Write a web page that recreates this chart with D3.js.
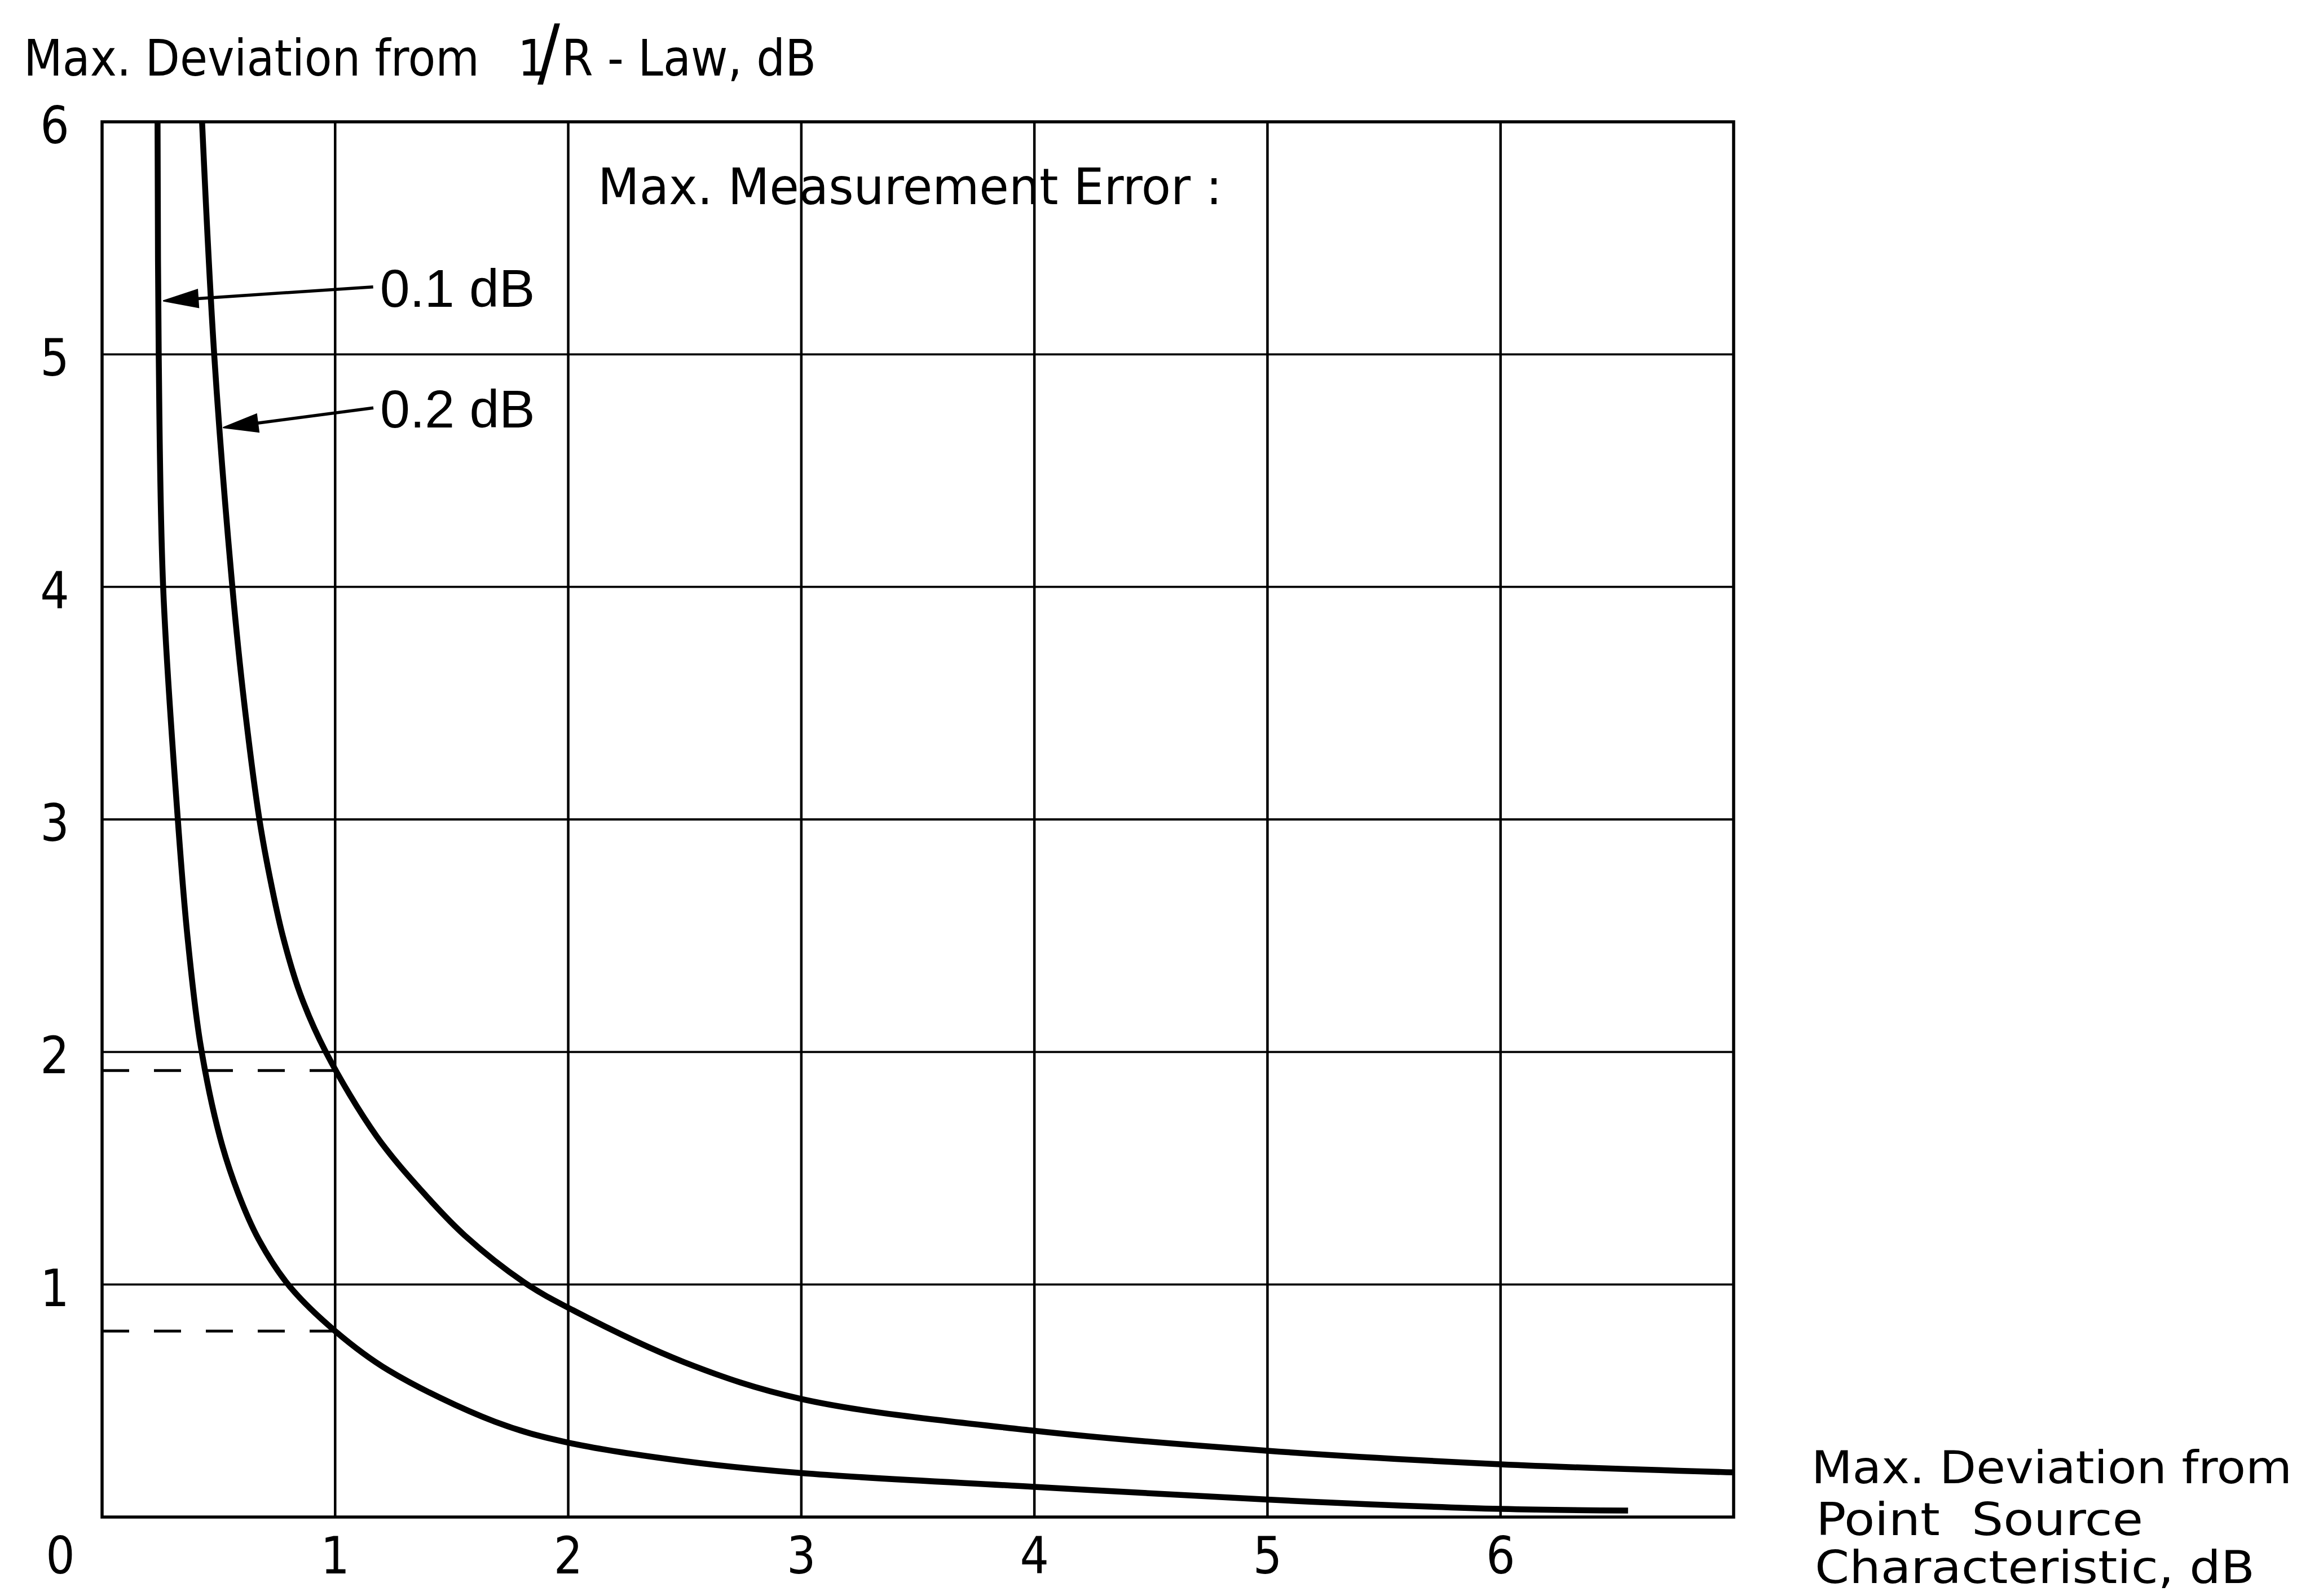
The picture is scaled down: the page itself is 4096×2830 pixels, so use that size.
<!DOCTYPE html>
<html>
<head>
<meta charset="utf-8">
<script src="https://cdn.jsdelivr.net/npm/d3@7"></script>
<style>
  html, body { margin: 0; padding: 0; background: #fff; }
  svg { display: block; }
  .lbl { font-family: "DejaVu Sans Condensed", "DejaVu Sans", sans-serif; fill: #000; }
  .lbl2 { font-family: "Liberation Sans", Arial, sans-serif; fill: #000; }
</style>
</head>
<body>
<div id="chart"></div>
<script>
// curve for 0.1 dB max. measurement error
var err01 = [
    [0.238, 6.0], [0.243, 5.0], [0.262, 4.0], [0.325, 3.0], [0.366, 2.5], [0.422, 2.033],
    [0.505, 1.636], [0.583, 1.395], [0.672, 1.194], [0.804, 0.993], [1.0, 0.80],
    [1.231, 0.63], [1.685, 0.41], [2.0, 0.32], [2.5, 0.24], [3.0, 0.189],
    [4.0, 0.13], [5.0, 0.075], [6.0, 0.035], [6.547, 0.028]
];
// curve for 0.2 dB
var err02 = [
    [0.429, 6.0], [0.481, 5.0], [0.559, 4.0], [0.61, 3.5], [0.675, 3.0], [0.72, 2.75],
    [0.775, 2.5], [0.85, 2.25], [0.96, 2.0], [1.179, 1.636], [1.389, 1.383],
    [1.557, 1.21], [1.81, 1.01], [2.0, 0.9], [2.5, 0.665], [3.0, 0.508], [4.0, 0.371],
    [5.0, 0.285], [6.0, 0.227], [7.0, 0.192]
];
// dashed read-off lines at x = 1
var readOffs = [[1.0, 1.92], [1.0, 0.80]];
// arrow: [label, start, tip]
var arrows = [
    ["0.1 dB", [1.163, 5.29], [0.262, 5.23]],
    ["0.2 dB", [1.164, 4.77], [0.519, 4.685]]
];
var xTicks = [1, 2, 3, 4, 5, 6];
var yTicks = [1, 2, 3, 4, 5, 6];

var width = 4096, height = 2830;

var svg = d3.select("#chart").append("svg")
    .attr("width", width)
    .attr("height", height)
    .attr("viewBox", "0 0 " + width + " " + height);

svg.append("rect").attr("width", width).attr("height", height).attr("fill", "#fff");

var x = d3.scaleLinear().domain([0, 7]).range([181, 3074]);
var y = d3.scaleLinear().domain([0, 6]).range([2690, 216]);

// grid
svg.append("g").selectAll("line")
    .data(xTicks)
    .enter().append("line")
    .attr("x1", function (d) { return x(d); })
    .attr("x2", function (d) { return x(d); })
    .attr("y1", y(6)).attr("y2", y(0))
    .attr("stroke", "#000").attr("stroke-width", 4.5);

svg.append("g").selectAll("line")
    .data(yTicks.slice(0, 5))
    .enter().append("line")
    .attr("x1", x(0)).attr("x2", x(7))
    .attr("y1", function (d) { return y(d); })
    .attr("y2", function (d) { return y(d); })
    .attr("stroke", "#000").attr("stroke-width", 3.8);

// frame
svg.append("rect")
    .attr("x", x(0)).attr("y", y(6))
    .attr("width", x(7) - x(0)).attr("height", y(0) - y(6))
    .attr("fill", "none").attr("stroke", "#000").attr("stroke-width", 5.5);

// dashed read-offs
svg.append("g").selectAll("line")
    .data(readOffs)
    .enter().append("line")
    .attr("x1", x(0)).attr("x2", function (d) { return x(d[0]); })
    .attr("y1", function (d) { return y(d[1]); })
    .attr("y2", function (d) { return y(d[1]); })
    .attr("stroke", "#000").attr("stroke-width", 5)
    .attr("stroke-dasharray", "48,44");

// curves
var line = d3.line()
    .x(function (d) { return x(d[0]); })
    .y(function (d) { return y(d[1]); })
    .curve(d3.curveCatmullRom.alpha(0.5));

svg.append("g").selectAll("path")
    .data([err01, err02])
    .enter().append("path")
    .attr("d", line)
    .attr("fill", "none")
    .attr("stroke", "#000")
    .attr("stroke-width", 10.5)
    .attr("stroke-linejoin", "round");

// arrows + labels
arrows.forEach(function (a) {
    var x0 = x(a[1][0]), y0 = y(a[1][1]);
    var x1 = x(a[2][0]), y1 = y(a[2][1]);
    var dx = x1 - x0, dy = y1 - y0;
    var len = Math.sqrt(dx * dx + dy * dy);
    var ux = dx / len, uy = dy / len;
    var hl = 62, hw = 16;
    var bx = x1 - ux * hl, by = y1 - uy * hl;
    svg.append("line")
        .attr("x1", x0).attr("y1", y0)
        .attr("x2", bx + ux * 4).attr("y2", by + uy * 4)
        .attr("stroke", "#000").attr("stroke-width", 5.5);
    svg.append("path")
        .attr("d", "M" + x1 + "," + y1 +
            "L" + (bx - uy * hw) + "," + (by + ux * hw) +
            "L" + (bx + uy * hw) + "," + (by - ux * hw) + "Z")
        .attr("fill", "#000")
        .attr("stroke", "#000").attr("stroke-width", 2);
    svg.append("text")
        .attr("class", "lbl2")
        .attr("x", x0 + 12)
        .attr("y", y0 + 35)
        .attr("font-size", 95)
        .text(a[0]);
});

// tick labels
svg.append("g").selectAll("text")
    .data(xTicks)
    .enter().append("text")
    .attr("class", "lbl")
    .attr("x", function (d) { return x(d); })
    .attr("y", 2790)
    .attr("text-anchor", "middle")
    .attr("font-size", 90)
    .text(function (d) { return d; });

svg.append("g").selectAll("text")
    .data(yTicks)
    .enter().append("text")
    .attr("class", "lbl")
    .attr("x", 97)
    .attr("y", function (d) { return y(d) + 38; })
    .attr("text-anchor", "middle")
    .attr("font-size", 90)
    .text(function (d) { return d; });

svg.append("text")
    .attr("class", "lbl")
    .attr("x", 107).attr("y", 2790)
    .attr("text-anchor", "middle")
    .attr("font-size", 90)
    .text("0");

// titles
svg.append("text").attr("class", "lbl")
    .attr("x", 42).attr("y", 134).attr("font-size", 89)
    .attr("textLength", 808).attr("lengthAdjust", "spacingAndGlyphs")
    .text("Max. Deviation from");

var lawTitle = svg.append("text").attr("class", "lbl")
    .attr("x", 918).attr("y", 134).attr("font-size", 89);
lawTitle.append("tspan").text("1");
lawTitle.append("tspan").attr("x", 953).attr("y", 138).attr("font-size", 132).text("/");
lawTitle.append("tspan").attr("x", 996).attr("y", 134).text("R - Law, dB");

svg.append("text").attr("class", "lbl")
    .attr("x", 1060).attr("y", 362).attr("font-size", 89)
    .attr("textLength", 1107).attr("lengthAdjust", "spacingAndGlyphs")
    .text("Max.  Measurement  Error :");

var xTitle = [
    ["Max. Deviation from", 3212, 2630, 852],
    ["Point  Source", 3220, 2722, 580],
    ["Characteristic, dB", 3218, 2807, 780]
];
svg.append("g").selectAll("text")
    .data(xTitle)
    .enter().append("text")
    .attr("class", "lbl")
    .attr("x", function (d) { return d[1]; })
    .attr("y", function (d) { return d[2]; })
    .attr("font-size", 80)
    .attr("textLength", function (d) { return d[3]; })
    .attr("lengthAdjust", "spacingAndGlyphs")
    .style("white-space", "pre")
    .text(function (d) { return d[0]; });
</script>
</body>
</html>
